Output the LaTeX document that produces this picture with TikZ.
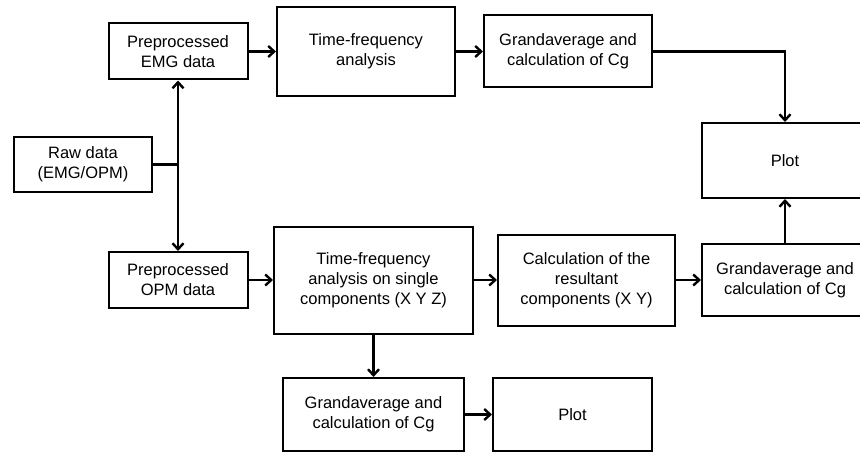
\documentclass[tikz,border=0pt]{standalone}
\usepackage{fontspec}
\setmainfont{Liberation Sans}
\usetikzlibrary{positioning,arrows.meta}
\tikzset{
  flowbox/.style={draw, line width=2pt, fill=white,
    font=\fontsize{16.5}{20}\selectfont, inner sep=0pt,
    align=center},
  flowline/.style={line width=2.4pt},
  flowarr/.style={-{Straight Barb[length=6pt,width=11pt]}, line width=2.4pt},
}

\begin{document}
\begin{tikzpicture}[x=1pt, y=-1pt]
  \path[use as bounding box, clip] (0,0) rectangle (860,452);
  % Column 0: raw data
  \node[flowbox, minimum width=138pt, minimum height=55pt] at (83,164.5) (Raw) {Raw data\\(EMG/OPM)};
  \coordinate (Split) at (178,164.5);
  % Column 1: the two preprocessed sets
  \node[flowbox, minimum width=139pt, minimum height=56pt] at (178,51.5) (EMG) {Preprocessed\\EMG data};
  \node[flowbox, minimum width=139pt, minimum height=56pt] at (178,280) (OPM) {Preprocessed\\OPM data};
  % Row 0: EMG branch
  \node[flowbox, minimum width=178pt, minimum height=89pt] at (366,51.5) (TFemg) {Time-frequency\\analysis};
  \node[flowbox, minimum width=168pt, minimum height=72pt] at (568,51.5) (GAemg) {Grandaverage and\\calculation of Cg};
  % Row 1: OPM branch
  \node[flowbox, minimum width=199pt, minimum height=107pt] at (373.5,280) (TFopm) {Time-frequency\\analysis on single\\components (X Y Z)};
  \node[flowbox, minimum width=177pt, minimum height=91pt] at (586.5,280) (Res) {Calculation of the\\resultant\\components (X Y)};
  \node[flowbox, minimum width=166pt, minimum height=72pt] at (785,280) (GAres) {Grandaverage and\\calculation of Cg};
  % Right column: common plot
  \node[flowbox, minimum width=166pt, minimum height=75pt] at (785,160.5) (Plot) {Plot};
  % Row 2: single components
  \node[flowbox, minimum width=181pt, minimum height=73pt] at (373.5,414.5) (GAxyz) {Grandaverage and\\calculation of Cg};
  \node[flowbox, minimum width=159pt, minimum height=73pt] at (572.5,414.5) (PlotXYZ) {Plot};
  % Edges
  \draw[flowline] (Raw) -- (Split);
  \draw[flowarr] (Split) -- (EMG);
  \draw[flowarr] (Split) -- (OPM);
  \draw[flowarr] (EMG) -- (TFemg);
  \draw[flowarr] (TFemg) -- (GAemg);
  \draw[flowarr] (GAemg) -| (Plot);
  \draw[flowarr] (OPM) -- (TFopm);
  \draw[flowarr] (TFopm) -- (Res);
  \draw[flowarr] (Res) -- (GAres);
  \draw[flowarr] (GAres) -- (Plot);
  \draw[flowarr] (TFopm) -- (GAxyz);
  \draw[flowarr] (GAxyz) -- (PlotXYZ);
\end{tikzpicture}
\end{document}
